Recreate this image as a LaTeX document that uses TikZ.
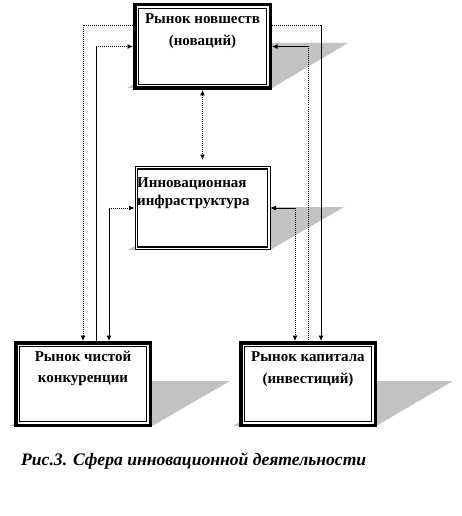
\documentclass[tikz,border=0pt]{standalone}
\usepackage{fontspec}
\setmainfont{Liberation Serif}
\usetikzlibrary{arrows.meta}
\begin{document}
\begin{tikzpicture}[x=1pt,y=-1pt,
  shade/.style={fill=gray!48, draw=none},
  boxA/.style={draw, line width=3.5pt, fill=white, inner sep=0pt},
  boxB/.style={draw, line width=1pt, fill=white, inner sep=0pt},
  lbl/.style={font=\fontsize{15}{17}\selectfont\bfseries, inner sep=0pt, anchor=base},
  lblw/.style={lbl, anchor=base west},
  con/.style={line width=0.9pt},
  dots/.style={con, dash pattern=on 1pt off 1pt},
  arr/.style={-{Latex[length=5.5pt,width=5pt]}},
  biarr/.style={{Latex[length=5.5pt,width=5pt]}-{Latex[length=5.5pt,width=5pt]}}
]
\useasboundingbox (0,0) rectangle (461,516);

% shadows
\fill[shade] (203,43) -- (348,43) -- (272,88) -- (127,88) -- cycle;
\fill[shade] (202,207) -- (344,207) -- (270,250) -- (128,250) -- cycle;
\fill[shade] (88,381) -- (230,381) -- (152,426) -- (10,426) -- cycle;
\fill[shade] (311,381) -- (453,381) -- (376,426) -- (233,426) -- cycle;

% boxes
\node[boxA, minimum width=135.5pt, minimum height=83.5pt] (top) at (202.5,46.5) {};
\node[boxB, minimum width=135pt, minimum height=83pt] (mid) at (202.5,208) {};
\node[boxA, minimum width=134.5pt, minimum height=82.5pt] (bl) at (83,384) {};
\node[boxA, minimum width=134.5pt, minimum height=82.5pt] (br) at (308,384) {};

\foreach \n in {top,bl,br}
  \draw[line width=1pt] ([shift={(5.2pt,-5.2pt)}]\n.north west) rectangle ([shift={(-5.2pt,5.2pt)}]\n.south east);
\draw[line width=1.6pt] ([shift={(3pt,-3pt)}]mid.north west) rectangle ([shift={(-3pt,3pt)}]mid.south east);

% texts
\node[lbl] (t1) at (202.5,24) {Рынок новшеств};
\node[lbl] (t2) at (202.5,46) {(новаций)};
\node[lblw] (m1) at (137,187) {Инновационная};
\node[lblw] (m2) at (137,205) {инфраструктура};
\node[lbl] (b1) at (83,361.5) {Рынок чистой};
\node[lbl] (b2) at (83,382) {конкуренции};
\node[lbl] (r1) at (308,361.5) {Рынок капитала};
\node[lbl] (r2) at (308,383) {(инвестиций)};
\node[font=\fontsize{17.6}{20}\selectfont\bfseries\itshape, inner sep=0pt, anchor=base west] (cap) at (21,465) {Рис.3. Сфера инновационной деятельности};

% helper coordinates
\coordinate (tw1) at ([yshift=21.5pt]top.west);
\coordinate (te1) at ([yshift=21.5pt]top.east);
\coordinate (bln2) at ([xshift=13pt]bl.north);
\coordinate (bln3) at ([xshift=26pt]bl.north);
\coordinate (brn1) at ([xshift=-13pt]br.north);
\coordinate (brn3) at ([xshift=13pt]br.north);

% left connectors
\draw[dots, arr] (tw1) -| (bl.north);
\draw[con] (bln2) -- (bln2 |- top.west);
\draw[dots, arr] (bln2 |- top.west) -- (top.west);
\draw[con, arr] (bln3 |- mid.west) -- (bln3);
\draw[dots, arr] (bln3 |- mid.west) -- (mid.west);

% centre connector
\draw[dots, biarr] (top.south) -- ([yshift=6pt]mid.north);

% right connectors
\draw[dots] (te1) -- (te1 -| brn3);
\draw[con, arr] (te1 -| brn3) -- (brn3);
\draw[con, arr] (br.north |- top.east) -- (top.east);
\draw[dots] (br.north |- top.east) -- (br.north);
\draw[con, arr] (brn1 |- mid.east) -- (mid.east);
\draw[dots, arr] (brn1 |- mid.east) -- (brn1);
\end{tikzpicture}
\end{document}
